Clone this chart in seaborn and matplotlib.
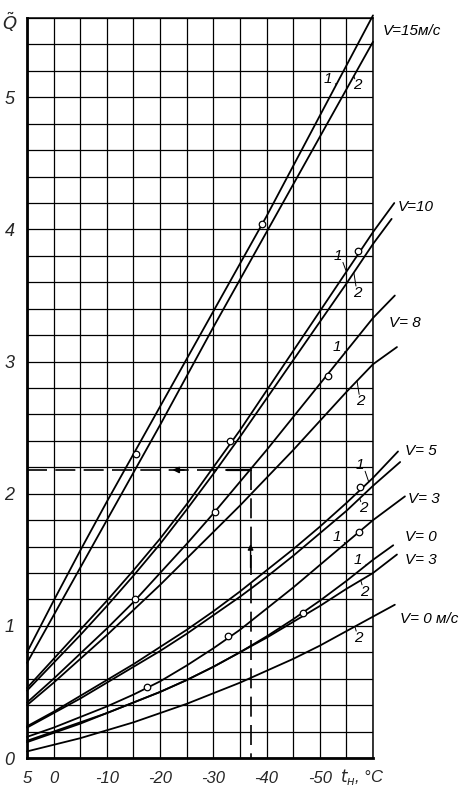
import numpy as np
import pandas as pd
import matplotlib
matplotlib.use("Agg")
import matplotlib.pyplot as plt
import seaborn as sns

# outdoor temperature, deg C (grid columns)
t_grid = [5, 0, -5, -10, -15, -20, -25, -30, -35, -40, -45, -50, -55, -60]

# relative heat loss Q for each wind speed; curve 1 and curve 2
q_v15_1 = [0.80, 1.19, 1.57, 1.94, 2.30, 2.66, 3.02, 3.38, 3.74, 4.10, 4.48, 4.86, 5.24, 5.62]
q_v15_2 = [0.72, 1.08, 1.44, 1.80, 2.16, 2.52, 2.89, 3.26, 3.62, 3.98, 4.34, 4.70, 5.06, 5.42]
q_v10_1 = [0.53, 0.75, 0.97, 1.19, 1.42, 1.66, 1.92, 2.20, 2.48, 2.78, 3.08, 3.38, 3.68, 3.98]
q_v10_2 = [0.51, 0.72, 0.93, 1.15, 1.38, 1.62, 1.88, 2.15, 2.43, 2.72, 3.01, 3.30, 3.59, 3.89]
q_v8_1 = [0.42, 0.60, 0.79, 0.98, 1.18, 1.40, 1.62, 1.85, 2.09, 2.33, 2.58, 2.83, 3.08, 3.33]
q_v8_2 = [0.40, 0.57, 0.75, 0.93, 1.12, 1.31, 1.51, 1.71, 1.91, 2.12, 2.33, 2.55, 2.77, 2.98]
q_v5_1 = [0.24, 0.35, 0.47, 0.59, 0.71, 0.84, 0.97, 1.11, 1.26, 1.42, 1.58, 1.75, 1.93, 2.12]
q_v5_2 = [0.23, 0.34, 0.45, 0.57, 0.69, 0.81, 0.94, 1.08, 1.22, 1.37, 1.53, 1.70, 1.87, 2.06]
q_v3_1 = [0.16, 0.23, 0.31, 0.39, 0.48, 0.58, 0.70, 0.83, 0.97, 1.13, 1.29, 1.46, 1.63, 1.80]
q_v3_2 = [0.13, 0.20, 0.27, 0.34, 0.42, 0.50, 0.59, 0.69, 0.80, 0.91, 1.03, 1.15, 1.28, 1.40]
q_v0_1 = [0.12, 0.19, 0.26, 0.34, 0.42, 0.50, 0.59, 0.69, 0.80, 0.92, 1.05, 1.19, 1.34, 1.50]
q_v0_2 = [0.05, 0.10, 0.15, 0.21, 0.27, 0.34, 0.41, 0.49, 0.57, 0.66, 0.75, 0.85, 0.96, 1.07]

# where each curve stops beyond the last grid column (t, Q); None = stops at -60
tail_t = [None, None, -64.0, -63.5, -64.1, -64.5, -64.7, -65.1, -66.0, -64.5, -63.8, -64.1]
tail_q = [None, None, 4.20, 4.08, 3.50, 3.11, 2.32, 2.24, 1.98, 1.54, 1.61, 1.16]

# measured points (circles)
pts_t = [-15.4, -39.2, -33.1, -57.2, -15.3, -30.3, -51.5, -57.6, -17.5, -32.8, -57.4, -46.8]
pts_q = [2.30, 4.04, 2.40, 3.84, 1.20, 1.86, 2.89, 2.05, 0.54, 0.92, 1.71, 1.10]

# worked example: t = -37 -> Q = 2.18
ex_t = -37.0
ex_q = 2.18

curves = [q_v15_1, q_v15_2, q_v10_1, q_v10_2, q_v8_1, q_v8_2,
          q_v5_1, q_v5_2, q_v3_1, q_v3_2, q_v0_1, q_v0_2]

rows = []
for i, q in enumerate(curves):
    ts = list(t_grid)
    qs = list(q)
    if tail_t[i] is not None:
        ts.append(tail_t[i])
        qs.append(tail_q[i])
    for t, v in zip(ts, qs):
        rows.append({"curve": i, "t": t, "Q": v})
df = pd.DataFrame(rows)

sns.set_theme(style="white")
plt.rcParams["font.family"] = ["Liberation Sans", "DejaVu Sans"]
plt.rcParams["mathtext.fontset"] = "dejavusans"

fig = plt.figure(figsize=(4.69, 7.91), dpi=100)
ax = fig.add_axes([0.0576, 0.0417, 0.7377, 0.9355])

sns.lineplot(data=df, x="t", y="Q", units="curve", estimator=None, sort=False,
             color="black", lw=1.3, clip_on=False, ax=ax, legend=False)

sns.scatterplot(x=pts_t, y=pts_q, marker="o", s=22, facecolor="white",
                edgecolor="black", linewidth=0.9, zorder=5, clip_on=False, ax=ax)

ax.set_xlim(5, -60)
ax.set_ylim(0, 5.6)
ax.set_xticks(np.arange(5, -61, -5))
ax.set_yticks(np.round(np.arange(0, 5.61, 0.2), 1))
ax.grid(True, color="black", lw=0.9)
ax.set_axisbelow(True)

xlab = {5: "5", 0: "0", -10: "-10", -20: "-20", -30: "-30", -40: "-40", -50: "-50"}
ax.set_xticklabels([xlab.get(int(v), "") for v in np.arange(5, -61, -5)],
                   fontsize=12, style="italic")
ylab = {0.0: "0", 1.0: "1", 2.0: "2", 3.0: "3", 4.0: "4", 5.0: "5"}
ax.set_yticklabels([ylab.get(float(v), "") for v in np.round(np.arange(0, 5.61, 0.2), 1)],
                   fontsize=13, style="italic")
ax.tick_params(length=0, pad=9)
ax.set_xlabel("")
ax.set_ylabel("")

for side in ["left", "bottom"]:
    ax.spines[side].set_linewidth(2.0)
for side in ["top", "right"]:
    ax.spines[side].set_linewidth(1.1)
for s in ax.spines.values():
    s.set_color("black")

# worked example lines
ax.plot([5, ex_t], [ex_q, ex_q], color="black", lw=1.2, ls=(0, (12, 5)))
ax.plot([-32.5, ex_t], [ex_q, ex_q], color="black", lw=1.6)
ax.plot([ex_t, ex_t], [ex_q, 0], color="black", lw=1.2, ls=(0, (12, 5)))
ax.annotate("", xy=(-21.8, ex_q), xytext=(-25.0, ex_q),
            arrowprops=dict(arrowstyle="-|>", color="black", lw=1.2, mutation_scale=9))
ax.annotate("", xy=(ex_t, 1.64), xytext=(ex_t, 1.42),
            arrowprops=dict(arrowstyle="-|>", color="black", lw=1.0, mutation_scale=8))

# curve labels
lab_kw = dict(fontsize=11, style="italic", color="black", clip_on=False)
v_labels = [("V=15м/с", -61.8, 5.50), ("V=10", -64.6, 4.17), ("V= 8", -63.0, 3.29),
            ("V= 5", -66.0, 2.32), ("V= 3", -66.6, 1.96), ("V= 0", -66.0, 1.67),
            ("V= 3", -66.0, 1.50), ("V= 0 м/с", -65.1, 1.05)]
for txt, t, q in v_labels:
    ax.text(t, q, txt, ha="left", va="center", **lab_kw)

num_labels = [("1", -51.5, 5.14, 0), ("2", -57.0, 5.09, 1),
              ("1", -53.4, 3.80, 2), ("2", -57.0, 3.52, 3),
              ("1", -53.2, 3.11, 4), ("2", -57.6, 2.70, 5),
              ("1", -57.6, 2.22, 6), ("2", -58.1, 1.89, 7),
              ("1", -53.2, 1.67, 8), ("2", -58.3, 1.26, 9),
              ("1", -57.2, 1.50, 10), ("2", -57.2, 0.91, 11)]
for txt, t, q, ci in num_labels:
    ax.text(t, q, txt, ha="center", va="center", **lab_kw)
    tt = t - 1.6 if txt == "1" else t + 0.6
    qq = np.interp(-tt, [-v for v in t_grid], curves[ci])
    ax.annotate("", xy=(tt, qq), xytext=(t - 0.5 if txt == "1" else t, q),
                arrowprops=dict(arrowstyle="-", color="black", lw=0.7,
                                shrinkA=5, shrinkB=0))

fig.text(10 / 469, 1 - 22 / 791, r"$\tilde{Q}$", fontsize=13, ha="center", va="center")
fig.text(362 / 469, 1 - 777 / 791, r"$t_{н}$, °C", fontsize=12, style="italic",
         ha="center", va="center")

fig.savefig("out.png", dpi=100)
